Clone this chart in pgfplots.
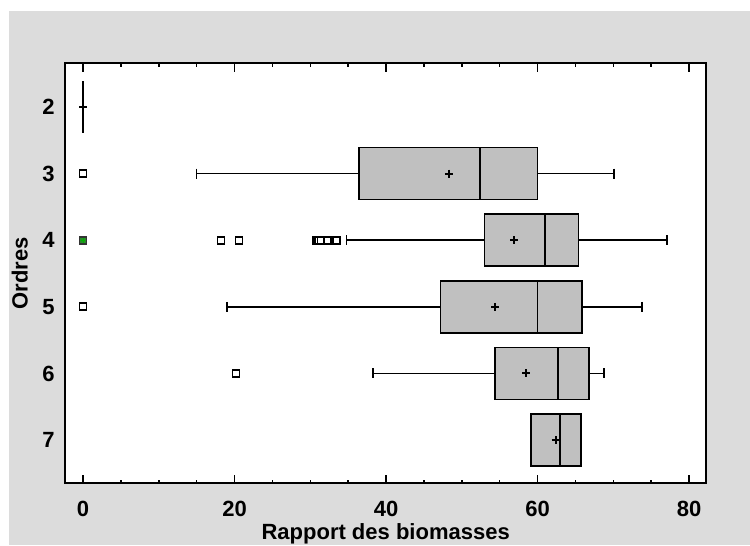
\documentclass[border=0pt]{standalone}
\usepackage{fontspec}
\setmainfont{Liberation Sans}
\usepackage{pgfplots}
\pgfplotsset{compat=1.18}
\usepgfplotslibrary{statistics}
\definecolor{bg}{RGB}{220,220,220}
\definecolor{boxgray}{RGB}{192,192,192}
\definecolor{farout}{RGB}{40,140,40}
\begin{document}
\begin{tikzpicture}
\fill[white] (-49pt,-46.3pt) rectangle (513.5pt,362.5pt);
\fill[bg] (-42.2pt,-46.3pt) rectangle (513.5pt,354.2pt);
\fill[white] (0,0) rectangle (480.5pt,315pt);
\begin{axis}[at={(0,0)}, anchor=south west, scale only axis,
  width=480.5pt, height=315pt,
  xmin=-2.34, xmax=82.24, ymin=1.344, ymax=7.65, y dir=reverse,
  xtick={0,20,...,80}, minor x tick num=3, ytick={2,...,7},
  tick align=inside, major tick length=6.5pt, minor tick length=2.5pt,
  every tick/.style={black, line width=1.1pt},
  ytick style={draw=none},
  axis line style={line width=1.4pt},
  /pgf/number format/assume math mode=true,
  tick label style={font=\fontsize{16.5}{19}\selectfont\bfseries},
  xticklabel style={yshift=-10pt},
  yticklabel style={xshift=-4.5pt},
  xlabel={\fontsize{16.5}{19}\selectfont\bfseries Rapport des biomasses},
  ylabel={\fontsize{16.5}{19}\selectfont\bfseries Ordres},
  xlabel style={yshift=2pt},
  ylabel style={yshift=4pt},
  boxplot/draw direction=x,
  boxplot/box extend=0.78,
  boxplot/whisker extend=0.15,
  boxplot/every box/.style={fill=boxgray, draw=black, line width=1.25pt},
  boxplot/every median/.style={draw=black, line width=1.4pt},
  boxplot/every whisker/.style={draw=black, line width=1.1pt},
  clip=false,
]
\addplot[boxplot prepared={lower whisker=0, lower quartile=0, median=0, upper quartile=0, upper whisker=0, draw position=2}, draw=black, line width=1.4pt] coordinates {};
\addplot[boxplot prepared={lower whisker=15.0, lower quartile=36.4, median=52.4, upper quartile=60.0, upper whisker=70.1, draw position=3}] coordinates {};
\addplot[boxplot prepared={lower whisker=34.8, lower quartile=53.0, median=61.0, upper quartile=65.4, upper whisker=77.1, draw position=4}] coordinates {};
\addplot[boxplot prepared={lower whisker=19.0, lower quartile=47.2, median=60.0, upper quartile=65.9, upper whisker=73.8, draw position=5}] coordinates {};
\addplot[boxplot prepared={lower whisker=38.3, lower quartile=54.4, median=62.7, upper quartile=66.8, upper whisker=68.8, draw position=6}] coordinates {};
\addplot[boxplot prepared={lower whisker=59.1, lower quartile=59.1, median=63.0, upper quartile=65.7, upper whisker=65.7, draw position=7}] coordinates {};
% outliers
\addplot[only marks, mark=square*, mark size=2.6pt, mark options={fill=white, draw=black, line width=1.3pt}]
  coordinates {(0,3) (18.2,4) (20.6,4) (30.8,4) (31.1,4) (31.4,4) (32.3,4) (33.5,4) (0,5) (20.2,6)};
% far outlier
\addplot[only marks, mark=square*, mark size=2.6pt, mark options={fill=farout, draw=black!80, line width=1.3pt}]
  coordinates {(0,4)};
\addplot[only marks, mark=+, mark size=1.8pt, mark options={draw=green!70!black, line width=0.8pt}]
  coordinates {(0,4)};
% means
\addplot[only marks, mark=+, mark size=3pt, mark options={draw=black, line width=1.5pt}]
  coordinates {(0,2) (48.3,3) (56.9,4) (54.4,5) (58.5,6) (62.4,7)};
\end{axis}
\pgfresetboundingbox
\path (-49pt,-46.3pt) rectangle (513.5pt,362.5pt);
\end{tikzpicture}
\end{document}
